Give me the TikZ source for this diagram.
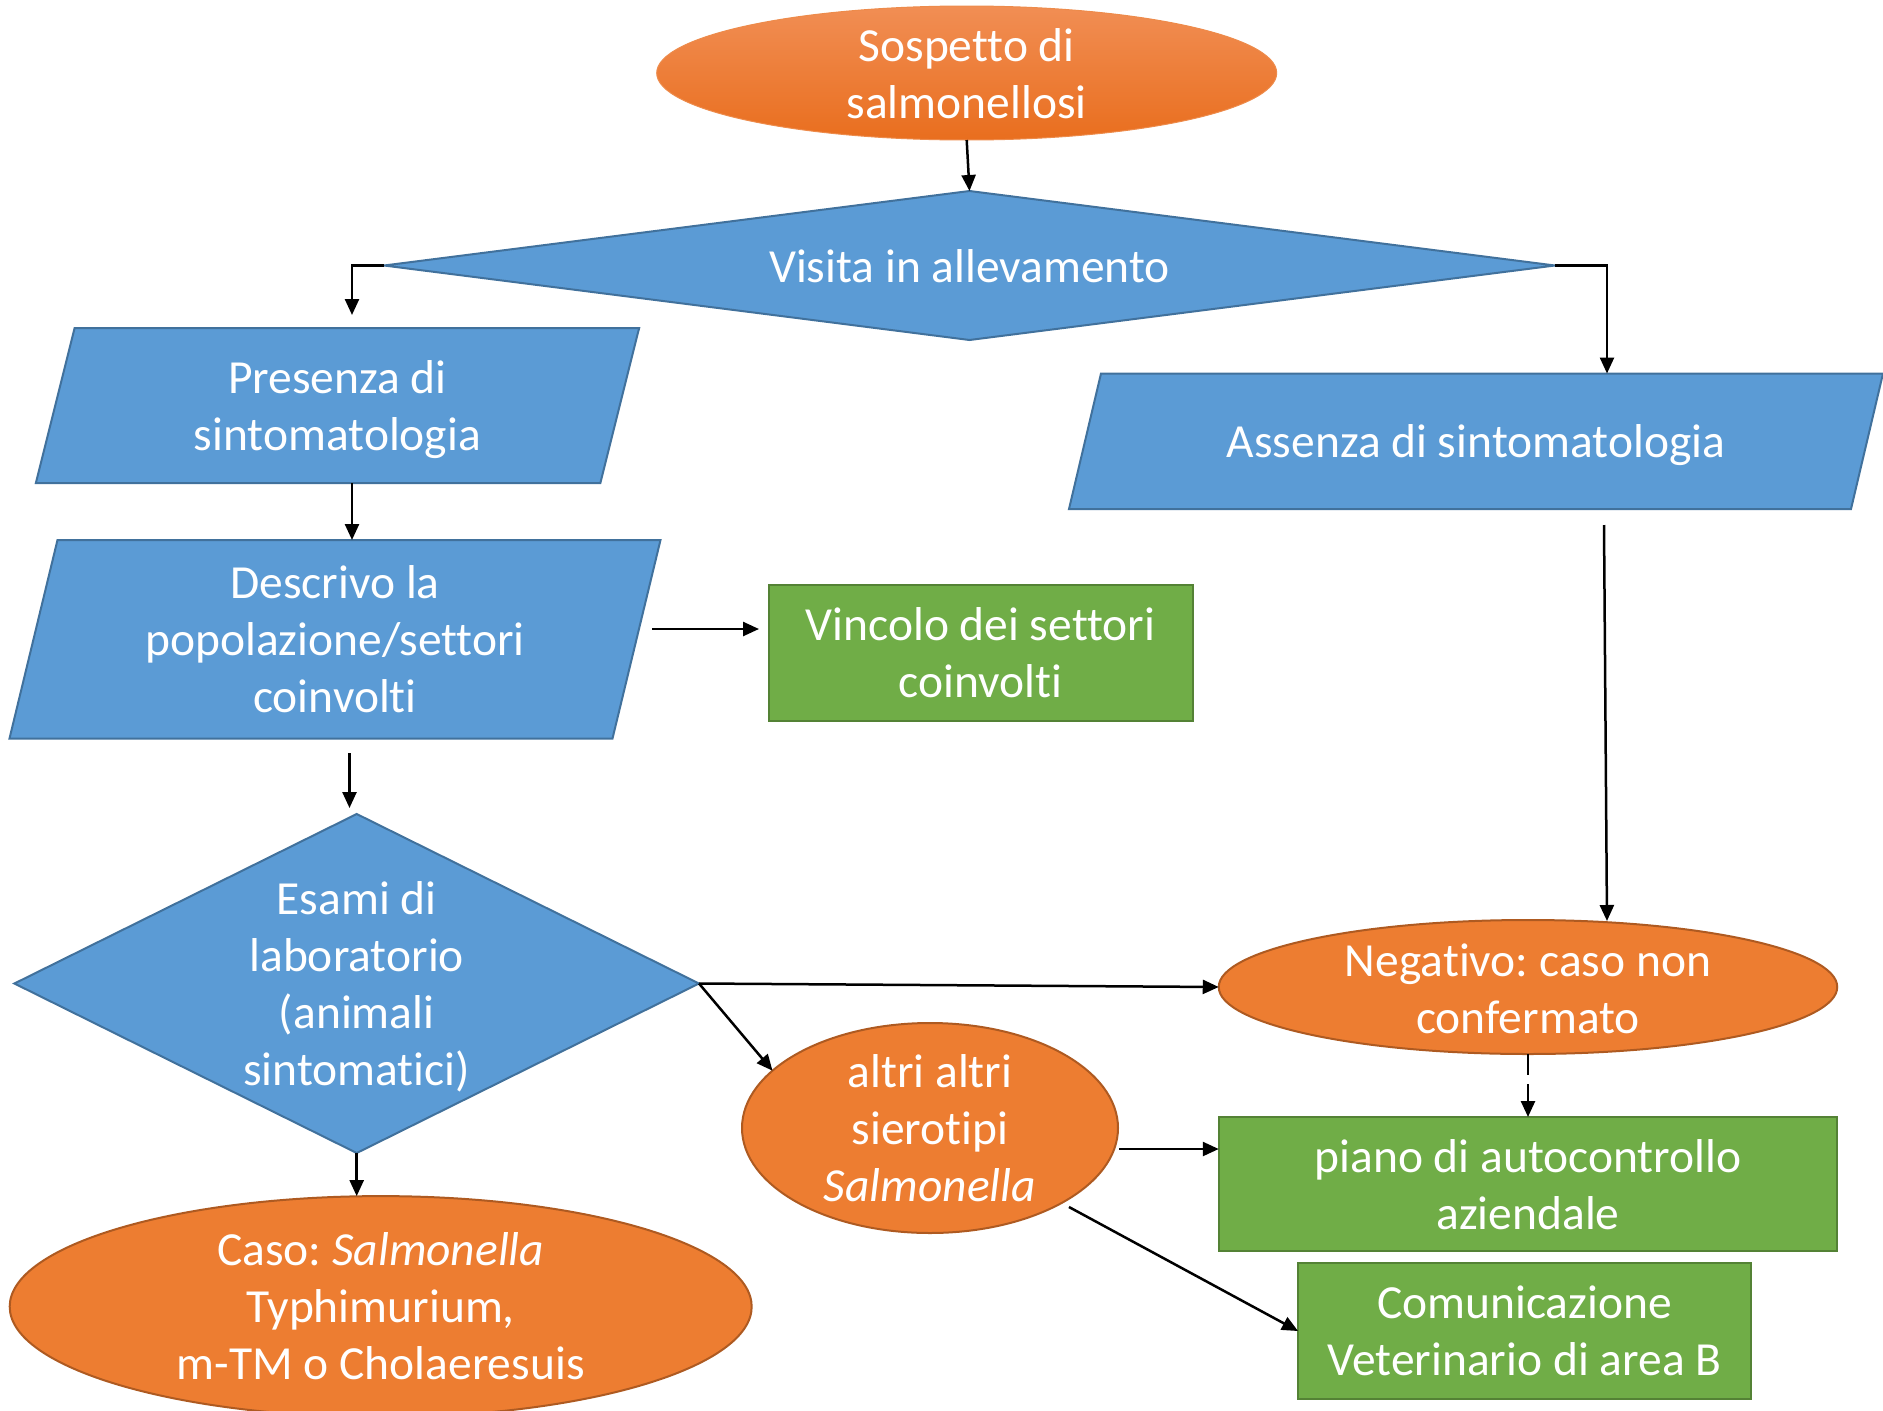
\documentclass[tikz,border=0pt]{standalone}
\usepackage{fontspec}
\setmainfont{Carlito}[Ligatures=NoCommon]
\usetikzlibrary{shapes.geometric,arrows.meta}
\definecolor{bfill}{RGB}{91,155,213}
\definecolor{bline}{RGB}{65,113,156}
\definecolor{ofill}{RGB}{237,125,49}
\definecolor{oline}{RGB}{174,90,33}
\definecolor{gfill}{RGB}{112,173,71}
\definecolor{gline}{RGB}{84,130,53}
\definecolor{stop}{RGB}{241,142,84}
\definecolor{sbot}{RGB}{233,110,30}
\frenchspacing
\begin{document}
\begin{tikzpicture}[x=1pt,y=-1pt,
  arr/.style={line width=2.5pt,-{Triangle[length=16pt,width=14pt]}},
  bshape/.style={fill=bfill,draw=bline,line width=2pt},
  oshape/.style={ellipse,fill=ofill,draw=oline,line width=2pt,inner sep=0,outer sep=0},
  gshape/.style={rectangle,fill=gfill,draw=gline,line width=2pt,inner sep=0,outer sep=0},
  bdiam/.style={diamond,fill=bfill,draw=bline,line width=2pt,inner sep=0,outer sep=0},
  txt/.style={text=white,align=center,inner sep=0,font=\fontsize{47.5}{57}\selectfont},
  body/.style={rectangle,inner sep=0,outer sep=0}
]
\useasboundingbox (0,0) rectangle (1883,1411);
\clip (0,0) rectangle (1883,1411);

% ---------- shapes ----------
\node[ellipse,inner sep=0,outer sep=0,minimum width=620pt,minimum height=134pt,
      top color=stop,bottom color=sbot,draw=sbot!80!white,line width=1pt] (sosp) at (966.7,73) {};
\node[txt] (tsosp) at ([yshift=-1pt]sosp.center) {Sospetto di\\salmonellosi};

\node[bdiam,minimum width=1171pt,minimum height=149pt] (visita) at (969.5,265.5) {};
\node[txt] (tvisita) at ([yshift=-1pt]visita.center) {Visita in allevamento};

\node[body,minimum width=564.5pt,minimum height=155pt] (pres) at (337.5,405.5) {};
\draw[bshape] ([xshift=-19.4pt]pres.south west) -- ([xshift=19.4pt]pres.north west)
   -- ([xshift=19.4pt]pres.north east) -- ([xshift=-19.4pt]pres.south east) -- cycle;
\node[txt] (tpres) at ([yshift=-4pt]pres.center) {Presenza di\\sintomatologia};

\node[body,minimum width=782pt,minimum height=135.5pt] (ass) at (1476,441.25) {};
\draw[bshape] ([xshift=-16pt]ass.south west) -- ([xshift=16pt]ass.north west)
   -- ([xshift=16pt]ass.north east) -- ([xshift=-16pt]ass.south east) -- cycle;
\node[txt] (tass) at ([yshift=-4pt]ass.center) {Assenza di sintomatologia};

\node[body,minimum width=603pt,minimum height=198.5pt] (desc) at (335,639.25) {};
\draw[bshape] ([xshift=-24pt]desc.south west) -- ([xshift=24pt]desc.north west)
   -- ([xshift=24pt]desc.north east) -- ([xshift=-24pt]desc.south east) -- cycle;
\node[txt] (tdesc) at (desc) {Descrivo la\\popolazione/settori\\coinvolti};

\node[gshape,minimum width=424pt,minimum height=135.5pt] (vinc) at (980.5,652.75) {};
\node[txt] (tvinc) at (vinc) {Vincolo dei settori\\coinvolti};

\node[bdiam,minimum width=684.6pt,minimum height=339pt] (esami) at (356.7,983.5) {};
\node[txt] (tesami) at ([yshift=-3pt]esami.center) {Esami di\\laboratorio\\(animali\\sintomatici)};

\node[oshape,minimum width=742pt,minimum height=221pt] (caso) at (380.7,1306.6) {};
\node[txt] (tcaso) at (caso) {Caso: \textit{Salmonella}\\Typhimurium,\\m-TM o Cholaeresuis};

\node[oshape,minimum width=618.5pt,minimum height=134pt] (neg) at (1528,987) {};
\node[txt] (tneg) at ([yshift=-2pt]neg.center) {Negativo: caso non\\confermato};

\node[oshape,minimum width=376pt,minimum height=210pt] (altri) at (930,1128) {};
\node[txt] (taltri) at (altri) {altri altri\\sierotipi\\\textit{Salmonella}};

\node[gshape,minimum width=618.5pt,minimum height=134pt] (piano) at (1528,1184) {};
\node[txt] (tpiano) at ([yshift=-1pt]piano.center) {piano di autocontrollo\\aziendale};

\node[gshape,minimum width=453pt,minimum height=136pt] (comu) at (1524.5,1331) {};
\node[txt] (tcomu) at (comu) {Comunicazione\\Veterinario di area B};

% ---------- free ends ----------
\coordinate (pIn) at (352,315);
\coordinate (aIn) at (1607,373.5);
\coordinate (dOut) at (652,629);
\coordinate (vIn) at (759,629);
\coordinate (dDown) at (349.5,753);
\coordinate (eIn) at (349.5,808);
\coordinate (aS) at (1604,525);
\coordinate (nIn) at (1607,921);
\coordinate (aOut) at (1119,1149);
\coordinate (aOut2) at (1069,1207);

% ---------- connectors ----------
\draw[arr] (sosp.south) -- (visita.north);
\draw[arr] (visita.west) -| (pIn);
\draw[arr] (visita.east) -| (aIn);
\draw[arr] (pres.south -| pIn) -- (desc.north -| pIn);
\draw[arr] (dOut) -- (vIn);
\draw[arr] (dDown) -- (eIn);
\draw[arr] (esami.south) -- (esami.south |- caso.north);
\draw[arr] (esami.east) -- (neg.west);
\draw[arr] (esami.east) -- (altri.160);
\draw[arr] (aS) -- (nIn);
\draw[arr] (aOut) -- (aOut -| piano.west);
\draw[arr] (aOut2) -- (comu.west);
\draw[arr,dash pattern=on 21pt off 9pt] (neg.south) -- (piano.north);
\end{tikzpicture}
\end{document}
